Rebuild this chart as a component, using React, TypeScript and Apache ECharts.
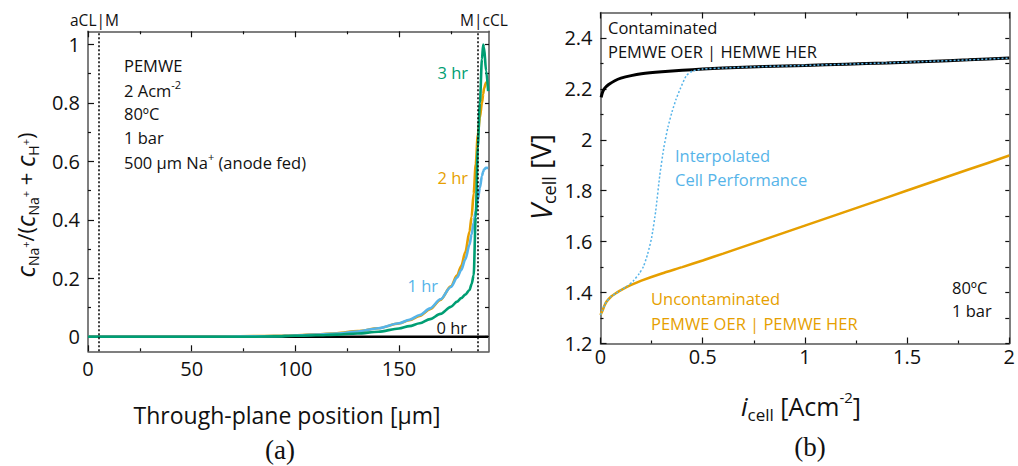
import React, { useEffect, useRef } from 'react';
import * as echarts from 'echarts';

const FONT = "'Open Sans', 'Noto Sans', sans-serif";
const SERIF = "'Liberation Serif', 'DejaVu Serif', serif";

// ---------- Panel (a) data ----------
const positionUm = [0, 20, 40, 60, 80, 90, 100, 110, 120, 130, 140, 150, 155, 160, 165, 170, 175, 178, 180, 182, 184, 185, 186, 187, 188, 189, 190, 190.6, 191, 192, 193];
const frac0hr = [0, 0, 0, 0, 0, 0, 0, 0, 0, 0, 0, 0, 0, 0, 0, 0, 0, 0, 0, 0, 0, 0, 0, 0, 0, 0, 0, 0, 0, 0, 0];
const frac1hr = [0, 0, 0, 0, 0.001, 0.002, 0.004, 0.007, 0.011, 0.018, 0.029, 0.046, 0.058, 0.074, 0.097, 0.128, 0.17, 0.202, 0.228, 0.265, 0.315, 0.35, 0.39, 0.43, 0.47, 0.51, 0.55, 0.565, 0.572, 0.578, 0.577];
const frac2hr = [0, 0, 0, 0, 0.002, 0.003, 0.005, 0.008, 0.012, 0.019, 0.029, 0.045, 0.056, 0.071, 0.094, 0.126, 0.172, 0.21, 0.242, 0.29, 0.36, 0.41, 0.49, 0.59, 0.69, 0.75, 0.8, 0.83, 0.85, 0.87, 0.87];
const frac3hr = [0, 0, 0, 0, 0, 0.001, 0.003, 0.005, 0.007, 0.011, 0.017, 0.028, 0.036, 0.046, 0.06, 0.078, 0.102, 0.12, 0.132, 0.144, 0.16, 0.18, 0.21, 0.41, 0.65, 0.8, 0.95, 1.0, 0.99, 0.91, 0.84];
const layerBoundariesUm = [5, 188];

const aXMajor = [0, 50, 100, 150];
const aXMinor = [25, 75, 125, 175];
const aYMajor = [0, 0.2, 0.4, 0.6, 0.8, 1];
const aYMinor = [0.1, 0.3, 0.5, 0.7, 0.9];
const aYAll = [0, 0.1, 0.2, 0.3, 0.4, 0.5, 0.6, 0.7, 0.8, 0.9, 1];

// ---------- Panel (b) data ----------
const iContaminated = [0.003, 0.01, 0.02, 0.04, 0.07, 0.1, 0.15, 0.2, 0.3, 0.4, 0.5, 0.6, 0.8, 1.0, 1.2, 1.4, 1.6, 1.8, 2.0];
const vContaminated = [2.167, 2.187, 2.202, 2.217, 2.232, 2.242, 2.252, 2.259, 2.267, 2.273, 2.278, 2.282, 2.288, 2.292, 2.297, 2.302, 2.308, 2.314, 2.321];
const iUncontaminated = [0, 0.01, 0.02, 0.03, 0.05, 0.08, 0.1, 0.15, 0.2, 0.3, 0.4, 0.5, 0.6, 0.8, 1.0, 1.2, 1.4, 1.6, 1.8, 2.0];
const vUncontaminated = [1.312, 1.33, 1.35, 1.365, 1.383, 1.4, 1.41, 1.43, 1.447, 1.475, 1.5, 1.526, 1.553, 1.608, 1.663, 1.718, 1.773, 1.828, 1.883, 1.938];
const iInterpolated = [0, 0.01, 0.02, 0.03, 0.05, 0.08, 0.1, 0.13, 0.16, 0.19, 0.21, 0.23, 0.25, 0.27, 0.29, 0.31, 0.33, 0.35, 0.37, 0.39, 0.42, 0.45, 0.5, 0.6, 0.8, 1.0, 1.2, 1.4, 1.6, 1.8, 2.0];
const vInterpolated = [1.312, 1.33, 1.35, 1.365, 1.383, 1.4, 1.41, 1.425, 1.445, 1.475, 1.502, 1.55, 1.615, 1.72, 1.86, 1.97, 2.05, 2.11, 2.16, 2.2, 2.252, 2.27, 2.278, 2.282, 2.288, 2.292, 2.297, 2.302, 2.308, 2.314, 2.321];

const bXMajor = [0, 0.5, 1, 1.5, 2];
const bXMinor = [0.25, 0.75, 1.25, 1.75];
const bYMajor = [1.2, 1.4, 1.6, 1.8, 2, 2.2, 2.4];
const bYMinor = [1.3, 1.5, 1.7, 1.9, 2.1, 2.3];
const bYAll = [1.2, 1.3, 1.4, 1.5, 1.6, 1.7, 1.8, 1.9, 2, 2.1, 2.2, 2.3, 2.4];

const GREEN = '#009E73';
const ORANGE = '#E69F00';
const BLUE = '#56B4E9';
const INK = '#111';

const zip = (xs: number[], ys: number[]) => xs.map((x, k) => [x, ys[k]]);

const axisLineStyle = { color: '#555', width: 1.5 };

function mkAxis(gridIndex: number, position: string, min: number, max: number, ticks: number[], len: number, showLine: boolean, labels?: number[], margin = 8) {
  return {
    type: 'value',
    gridIndex,
    position,
    min,
    max,
    axisLine: { show: showLine, onZero: false, lineStyle: axisLineStyle },
    axisTick: { show: true, inside: true, length: len, customValues: ticks, lineStyle: { color: INK, width: 1.2 } },
    axisLabel: labels
      ? { show: true, customValues: labels, fontSize: 20, fontFamily: FONT, color: INK, margin }
      : { show: false },
    splitLine: { show: false },
    minorTick: { show: false },
  };
}

const ANN = 16.5;

const txt = (x: number, y: number, text: string, color: string, fontSize = ANN, align = 'left', rich?: any) => ({
  type: 'text',
  x,
  y,
  silent: true,
  style: { text, fill: color, fontSize, fontFamily: FONT, align, verticalAlign: 'middle', lineHeight: 22, rich },
});

const supRich = { sup: { fontSize: 11, lineHeight: 11, verticalAlign: 'top', fontFamily: FONT } };

const lineA = (data: number[], color: string) => ({
  type: 'line', xAxisIndex: 0, yAxisIndex: 0, data: zip(positionUm, data), symbol: 'none',
  smooth: 0.3, smoothMonotone: 'x',
  lineStyle: { color, width: 2.6 }, emphasis: { disabled: true },
});

const option = {
  animation: false,
  backgroundColor: '#fff',
  grid: [
    { left: 88, top: 31.3, width: 401, height: 320, containLabel: false },
    { left: 600.5, top: 12.5, width: 412.5, height: 331, containLabel: false },
  ],
  xAxis: [
    mkAxis(0, 'bottom', 0, 193.4, aXMajor, 6, true, aXMajor, 7),
    mkAxis(0, 'bottom', 0, 193.4, aXMinor, 3, false),
    mkAxis(0, 'top', 0, 193.4, aXMajor, 6, true),
    mkAxis(0, 'top', 0, 193.4, aXMinor, 3, false),
    mkAxis(1, 'bottom', 0, 2, bXMajor, 6, true, bXMajor, 3),
    mkAxis(1, 'bottom', 0, 2, bXMinor, 3, false),
    mkAxis(1, 'top', 0, 2, bXMajor, 6, true),
    mkAxis(1, 'top', 0, 2, bXMinor, 3, false),
  ],
  yAxis: [
    mkAxis(0, 'left', -0.05, 1.045, aYMajor, 6, true, aYMajor, 8),
    mkAxis(0, 'left', -0.05, 1.045, aYMinor, 3, false),
    mkAxis(0, 'right', -0.05, 1.045, aYAll, 4, true),
    mkAxis(1, 'left', 1.2, 2.5, bYMajor, 6, true, bYMajor, 8),
    mkAxis(1, 'left', 1.2, 2.5, bYMinor, 3, false),
    mkAxis(1, 'right', 1.2, 2.5, bYAll, 4, true),
  ],
  series: [
    {
      ...lineA(frac0hr, '#000'),
      markLine: {
        silent: true, symbol: ['none', 'none'], label: { show: false },
        lineStyle: { color: '#000', type: [2, 2], width: 1.5 },
        data: layerBoundariesUm.map((v) => ({ xAxis: v })),
      },
    },
    lineA(frac2hr, ORANGE),
    lineA(frac1hr, BLUE),
    lineA(frac3hr, GREEN),
    { type: 'line', xAxisIndex: 4, yAxisIndex: 3, data: zip(iContaminated, vContaminated), symbol: 'none', smooth: 0.2, lineStyle: { color: '#000', width: 3 }, emphasis: { disabled: true } },
    { type: 'line', xAxisIndex: 4, yAxisIndex: 3, data: zip(iUncontaminated, vUncontaminated), symbol: 'none', smooth: 0.2, lineStyle: { color: ORANGE, width: 2.6 }, emphasis: { disabled: true } },
    { type: 'line', xAxisIndex: 4, yAxisIndex: 3, data: zip(iInterpolated, vInterpolated), symbol: 'none', smooth: 0.2, lineStyle: { color: BLUE, width: 1.5, type: [2, 2] }, emphasis: { disabled: true } },
  ],
  graphic: [
    // Panel (a) texts
    txt(70, 20, 'aCL|M', INK, 15.5),
    txt(460, 20, 'M|cCL', INK, 15.5),
    txt(124, 65, 'PEMWE', INK),
    txt(124, 90, '2 Acm{sup|-2}', INK, ANN, 'left', supRich),
    txt(124, 113, '80ºC', INK),
    txt(124, 137, '1 bar', INK),
    txt(124, 162, '500 μm Na{sup|+} (anode fed)', INK, ANN, 'left', supRich),
    txt(468, 72, '3 hr', GREEN, 16.5, 'right'),
    txt(468, 177, '2 hr', ORANGE, 16.5, 'right'),
    txt(438, 285, '1 hr', BLUE, 16.5, 'right'),
    txt(467, 327, '0 hr', INK, 16.5, 'right'),
    {
      type: 'text', x: 287, y: 415, silent: true,
      style: { text: 'Through-plane position [μm]', fill: INK, fontSize: 23, fontFamily: FONT, align: 'center', verticalAlign: 'middle' },
    },
    {
      type: 'text', x: 280, y: 450, silent: true,
      style: { text: '(a)', fill: INK, fontSize: 27, fontFamily: SERIF, align: 'center', verticalAlign: 'middle' },
    },
    {
      type: 'text', x: 25, y: 205, rotation: Math.PI / 2, silent: true,
      style: {
        text: '{i|c}{s|Na}{p|+}{n|/(}{i|c}{s|Na}{p|+}{n| + }{i|c}{s|H}{p|+}{n|)}',
        fill: INK, align: 'center', verticalAlign: 'middle', fontFamily: FONT,
        rich: {
          i: { fontSize: 25, fontStyle: 'italic', lineHeight: 30, fontFamily: FONT, fill: INK },
          n: { fontSize: 22, lineHeight: 30, fontFamily: FONT, fill: INK },
          s: { fontSize: 14, lineHeight: 14, verticalAlign: 'bottom', fontFamily: FONT, fill: INK },
          p: { fontSize: 11, lineHeight: 11, verticalAlign: 'middle', fontFamily: FONT, fill: INK },
        },
      },
    },
    // Panel (b) texts
    txt(608, 27, 'Contaminated', INK),
    txt(608, 51, 'PEMWE OER | HEMWE HER', INK),
    txt(675, 155, 'Interpolated', BLUE),
    txt(675, 179, 'Cell Performance', BLUE),
    txt(651, 298, 'Uncontaminated', ORANGE),
    txt(651, 323, 'PEMWE OER | PEMWE HER', ORANGE),
    txt(952, 287, '80ºC', INK),
    txt(952, 310, '1 bar', INK),
    {
      type: 'text', x: 801, y: 406, silent: true,
      style: {
        text: '{i|i}{s|cell}{n| [Acm}{p|-2}{n|]}',
        fill: INK, align: 'center', verticalAlign: 'middle', fontFamily: FONT,
        rich: {
          i: { fontSize: 26, fontStyle: 'italic', lineHeight: 34, fontFamily: FONT, fill: INK },
          n: { fontSize: 25, lineHeight: 34, fontFamily: FONT, fill: INK },
          s: { fontSize: 17, lineHeight: 17, verticalAlign: 'bottom', fontFamily: FONT, fill: INK },
          p: { fontSize: 15, lineHeight: 15, verticalAlign: 'top', fontFamily: FONT, fill: INK },
        },
      },
    },
    {
      type: 'text', x: 810, y: 447, silent: true,
      style: { text: '(b)', fill: INK, fontSize: 27, fontFamily: SERIF, align: 'center', verticalAlign: 'middle' },
    },
    {
      type: 'text', x: 540, y: 177, rotation: Math.PI / 2, silent: true,
      style: {
        text: '{i|V}{s|cell}{n| [V]}',
        fill: INK, align: 'center', verticalAlign: 'middle', fontFamily: FONT,
        rich: {
          i: { fontSize: 29, fontStyle: 'italic', lineHeight: 36, fontFamily: FONT, fill: INK },
          n: { fontSize: 28, lineHeight: 36, fontFamily: FONT, fill: INK },
          s: { fontSize: 18, lineHeight: 18, verticalAlign: 'bottom', fontFamily: FONT, fill: INK },
        },
      },
    },
  ],
};

export default function App() {
  const ref = useRef<HTMLDivElement>(null);
  useEffect(() => {
    document.body.style.margin = '0';
    const chart = echarts.init(ref.current!, null, { renderer: 'svg' });
    chart.setOption(option as any);
    return () => chart.dispose();
  }, []);
  return <div ref={ref} style={{ width: 1018, height: 466, background: '#fff' }} />;
}
